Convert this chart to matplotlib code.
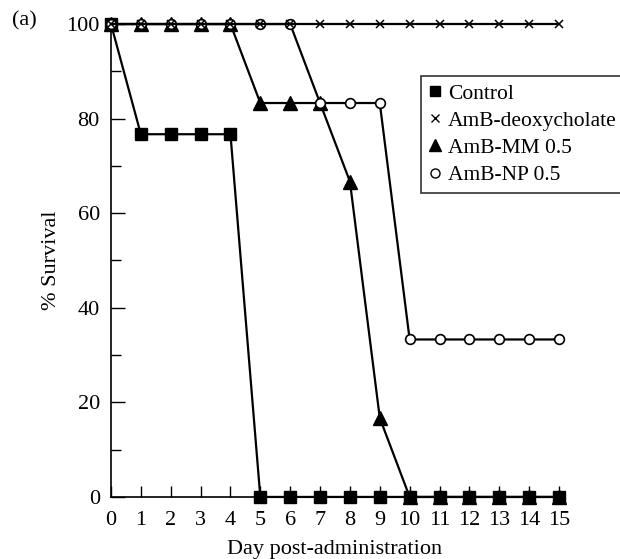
import matplotlib.pyplot as plt
from matplotlib.lines import Line2D

plt.rcParams['font.family'] = ['Liberation Serif', 'DejaVu Serif']

days = list(range(16))
control = [100, 76.7, 76.7, 76.7, 76.7, 0, 0, 0, 0, 0, 0, 0, 0, 0, 0, 0]
deoxy = [100] * 16
amb_mm = [100, 100, 100, 100, 100, 83.3, 83.3, 83.3, 66.7, 16.7, 0, 0, 0, 0, 0, 0]
amb_np = [100, 100, 100, 100, 100, 100, 100, 83.3, 83.3, 83.3, 33.3, 33.3, 33.3, 33.3, 33.3, 33.3]

fig = plt.figure(figsize=(6.2, 5.59), dpi=100)
ax = fig.add_axes([0.179, 0.111, 0.7226, 0.846])

lw = 1.6
ax.plot(days, control, 'k-', lw=lw, marker='s', ms=8.5, mfc='k', mec='k', clip_on=False, label='Control', zorder=3)
ax.plot(days, amb_mm, 'k-', lw=lw, marker='^', ms=10.5, mfc='k', mec='k', clip_on=False, label='AmB-MM 0.5', zorder=4)
ax.plot(days, amb_np, 'k-', lw=lw, marker='o', ms=7, mfc='white', mec='k', mew=1.2, clip_on=False, label='AmB-NP 0.5', zorder=5)
ax.plot(days, deoxy, 'k-', lw=lw, marker='x', ms=5.5, mec='k', mew=1.1, clip_on=False, label='AmB-deoxycholate', zorder=6)

ax.set_xlim(0, 15)
ax.set_ylim(0, 100)
ax.set_xticks(days)
ax.set_yticks([0, 20, 40, 60, 80, 100])
ax.set_yticks([10, 30, 50, 70, 90], minor=True)
ax.tick_params(axis='x', direction='in', length=8, width=1, labelsize=16, pad=10)
ax.tick_params(axis='y', which='major', direction='in', length=10, width=1, labelsize=16, pad=8)
ax.tick_params(axis='y', which='minor', direction='in', length=7, width=1)
for s in ['top', 'right']:
    ax.spines[s].set_visible(False)
for s in ['left', 'bottom']:
    ax.spines[s].set_linewidth(1.2)

ax.set_xlabel('Day post-administration', fontsize=16, labelpad=7)
ax.set_ylabel('% Survival', fontsize=16, labelpad=4)
fig.text(0.019, 0.962, '(a)', fontsize=16, va='center')

h, l = ax.get_legend_handles_labels()
order = [0, 3, 1, 2]
legend_ms = [7, 5.5, 8, 6.5]
handles = []
for i, m in zip(order, legend_ms):
    src = h[i]
    handles.append(Line2D([], [], ls='none', marker=src.get_marker(), ms=m,
                          mfc=src.get_markerfacecolor(), mec='k', mew=1.0))
leg = fig.legend(handles, [l[i] for i in order], loc='upper left', bbox_to_anchor=(0.679, 0.864),
                 fontsize=15.5, frameon=True, fancybox=False, edgecolor='k', handlelength=0.6,
                 handletextpad=0.3, borderpad=0.35, labelspacing=0.33, borderaxespad=0)
leg.get_frame().set_linewidth(1.2)

fig.savefig('out.png', dpi=100)
